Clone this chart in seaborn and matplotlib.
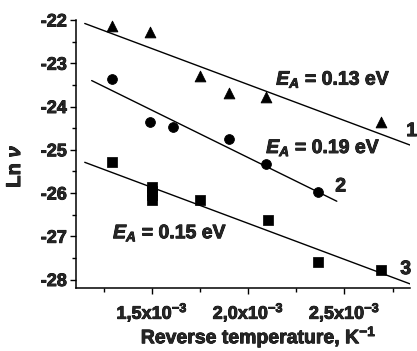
import numpy as np
import pandas as pd
import matplotlib
matplotlib.use("Agg")
import matplotlib.pyplot as plt
import matplotlib.patheffects as pe
import seaborn as sns
from matplotlib.ticker import MultipleLocator, FuncFormatter

# ---- data ----
x_tri = [1.29e-3, 1.49e-3, 1.75e-3, 1.90e-3, 2.09e-3, 2.69e-3]
y_tri = [-22.14, -22.28, -23.30, -23.69, -23.79, -24.36]
x_cir = [1.29e-3, 1.49e-3, 1.61e-3, 1.90e-3, 2.09e-3, 2.36e-3]
y_cir = [-23.36, -24.36, -24.47, -24.76, -25.34, -25.98]
x_sq = [1.29e-3, 1.50e-3, 1.50e-3, 1.50e-3, 1.50e-3, 1.75e-3, 2.10e-3, 2.36e-3, 2.69e-3]
y_sq = [-25.28, -25.85, -25.95, -26.05, -26.15, -26.16, -26.63, -27.60, -27.77]
fit1_x = [1.15e-3, 2.84e-3]; fit1_y = [-22.08, -24.89]
fit2_x = [1.186e-3, 2.46e-3]; fit2_y = [-23.40, -26.19]
fit3_x = [1.15e-3, 2.84e-3]; fit3_y = [-25.29, -28.10]
labels_ea = ["0.13", "0.19", "0.15"]
curve_ids = ["1", "2", "3"]

sns.set_theme(style="ticks")
plt.rcParams['font.family'] = ['Liberation Sans', 'DejaVu Sans']
plt.rcParams['font.weight'] = 'bold'
plt.rcParams['mathtext.fontset'] = 'custom'
plt.rcParams['mathtext.rm'] = 'Liberation Sans:bold'
plt.rcParams['mathtext.bf'] = 'Liberation Sans:bold'
plt.rcParams['mathtext.it'] = 'Liberation Sans:bold:italic'
plt.rcParams['mathtext.default'] = 'bf'

thick = [pe.withStroke(linewidth=0.6, foreground='black')]

fig = plt.figure(figsize=(4.17, 3.51), dpi=100)
ax = fig.add_axes([0.182, 0.179, 0.801, 0.764])

df_tri = pd.DataFrame({"x": x_tri, "y": y_tri})
df_cir = pd.DataFrame({"x": x_cir, "y": y_cir})
df_sq = pd.DataFrame({"x": x_sq, "y": y_sq})
sns.scatterplot(data=df_tri, x="x", y="y", marker="^", s=60, color="black", edgecolor="black", ax=ax)
sns.scatterplot(data=df_cir, x="x", y="y", marker="o", s=50, color="black", edgecolor="black", ax=ax)
sns.scatterplot(data=df_sq, x="x", y="y", marker="s", s=42, color="black", edgecolor="black", ax=ax)

for fx, fy in [(fit1_x, fit1_y), (fit2_x, fit2_y), (fit3_x, fit3_y)]:
    sns.lineplot(x=fx, y=fy, color="black", lw=1.0, ax=ax)

ax.set_xlim(1.104e-3, 2.84e-3)
ax.set_ylim(-28.2, -22.0)
sns.despine(ax=ax)
for sp in ['left', 'bottom']:
    ax.spines[sp].set_linewidth(1.1)
    ax.spines[sp].set_color('black')

ax.xaxis.set_major_locator(MultipleLocator(0.5e-3))
ax.xaxis.set_minor_locator(MultipleLocator(0.25e-3))
ax.yaxis.set_major_locator(MultipleLocator(1))
ax.yaxis.set_minor_locator(MultipleLocator(0.5))

def xfmt(v, pos):
    m = v * 1e3
    s = ("%.1f" % m).replace(".", ",")
    return s + "x10$^{-3}$"
ax.xaxis.set_major_formatter(FuncFormatter(xfmt))
ax.yaxis.set_major_formatter(FuncFormatter(lambda v, p: "%d" % v))
ax.tick_params(axis='both', which='major', direction='out', length=4, width=1, labelsize=13, color='black')
ax.tick_params(axis='x', which='major', pad=5)
ax.tick_params(axis='y', which='major', pad=2.5)
ax.tick_params(axis='both', which='minor', direction='out', length=3, width=1, color='black')
for lab in ax.get_xticklabels() + ax.get_yticklabels():
    lab.set_fontweight('bold')
    lab.set_path_effects(thick)

ax.set_xlabel("Reverse temperature, K$^{-1}$", fontsize=14, fontweight='bold', path_effects=thick)
ax.set_ylabel("Ln $\\it{\\nu}$", fontsize=14.5, fontweight='bold', path_effects=thick)
ax.xaxis.set_label_coords(0.548, -0.135)
ax.yaxis.set_label_coords(-0.155, 0.455)

kw = dict(fontsize=14, fontweight='bold', va='center', path_effects=thick)
ax.text(2.145e-3, -23.38, "$\\it{E}_{\\it{A}}$ = %s eV" % labels_ea[0], **kw)
ax.text(2.093e-3, -24.96, "$\\it{E}_{\\it{A}}$ = %s eV" % labels_ea[1], **kw)
ax.text(1.297e-3, -26.93, "$\\it{E}_{\\it{A}}$ = %s eV" % labels_ea[2], **kw)
ax.text(2.821e-3, -24.58, curve_ids[0], **kw)
ax.text(2.452e-3, -25.86, curve_ids[1], **kw)
ax.text(2.79e-3, -27.77, curve_ids[2], **kw)

fig.savefig("out.png", dpi=100)
